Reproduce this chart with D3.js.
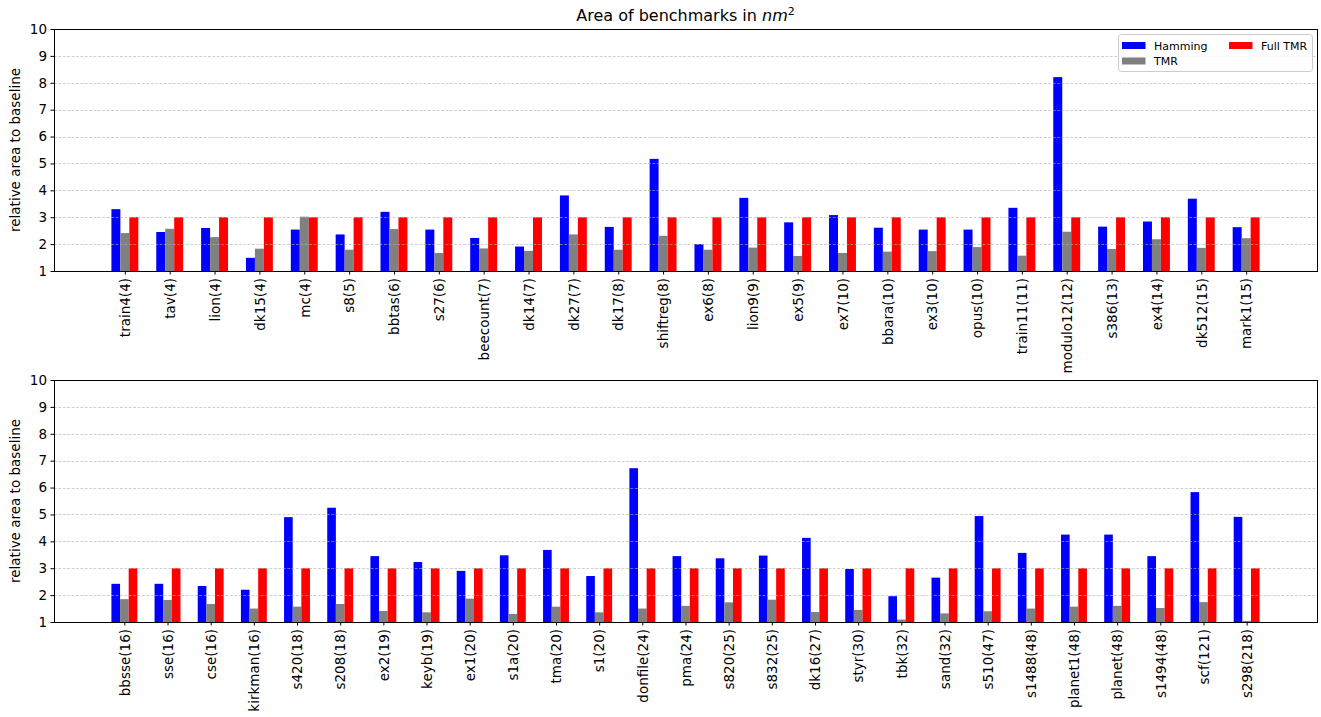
<!DOCTYPE html>
<html>
<head>
<meta charset="utf-8">
<script src="https://cdn.jsdelivr.net/npm/d3@7"></script>
<style>
  html, body { margin: 0; padding: 0; background: #fff; }
  svg { display: block; font-family: "DejaVu Sans", sans-serif; }
</style>
</head>
<body>
<svg id="chart" width="1321" height="717"></svg>
<script>
// Benchmarks of the first panel (state count in parentheses)
const topCategories = ["train4(4)", "tav(4)", "lion(4)", "dk15(4)", "mc(4)", "s8(5)", "bbtas(6)", "s27(6)",
  "beecount(7)", "dk14(7)", "dk27(7)", "dk17(8)", "shiftreg(8)", "ex6(8)", "lion9(9)", "ex5(9)", "ex7(10)",
  "bbara(10)", "ex3(10)", "opus(10)", "train11(11)", "modulo12(12)", "s386(13)", "ex4(14)", "dk512(15)", "mark1(15)"];
const topHamming = [3.30, 2.45, 2.60, 1.49, 2.54, 2.36, 3.20, 2.54, 2.23, 1.91, 3.81, 2.64, 5.17, 2.00, 3.72, 2.81,
  3.08, 2.61, 2.54, 2.54, 3.35, 8.21, 2.65, 2.84, 3.69, 2.63];
const topTMR = [2.41, 2.57, 2.26, 1.83, 3.02, 1.79, 2.56, 1.67, 1.84, 1.75, 2.36, 1.79, 2.31, 1.79, 1.87, 1.56,
  1.67, 1.72, 1.74, 1.89, 1.57, 2.46, 1.82, 2.18, 1.86, 2.22];
const topFullTMR = [3, 3, 3, 3, 3, 3, 3, 3, 3, 3, 3, 3, 3, 3, 3, 3, 3, 3, 3, 3, 3, 3, 3, 3, 3, 3];

// Benchmarks of the second panel
const bottomCategories = ["bbsse(16)", "sse(16)", "cse(16)", "kirkman(16)", "s420(18)", "s208(18)", "ex2(19)",
  "keyb(19)", "ex1(20)", "s1a(20)", "tma(20)", "s1(20)", "donfile(24)", "pma(24)", "s820(25)", "s832(25)",
  "dk16(27)", "styr(30)", "tbk(32)", "sand(32)", "s510(47)", "s1488(48)", "planet1(48)", "planet(48)",
  "s1494(48)", "scf(121)", "s298(218)"];
const bottomHamming = [2.42, 2.42, 2.34, 2.20, 4.90, 5.25, 3.45, 3.23, 2.90, 3.48, 3.68, 2.71, 6.72, 3.45, 3.37,
  3.47, 4.13, 2.97, 1.96, 2.65, 4.94, 3.57, 4.25, 4.25, 3.45, 5.83, 4.91];
const bottomTMR = [1.85, 1.82, 1.67, 1.50, 1.57, 1.67, 1.41, 1.36, 1.87, 1.30, 1.57, 1.36, 1.50, 1.60, 1.73,
  1.83, 1.37, 1.45, 1.09, 1.32, 1.40, 1.50, 1.57, 1.60, 1.52, 1.74, 1.04];
const bottomFullTMR = [3, 3, 3, 3, 3, 3, 3, 3, 3, 3, 3, 3, 3, 3, 3, 3, 3, 3, 3, 3, 3, 3, 3, 3, 3, 3, 3];

const seriesNames = ["Hamming", "TMR", "Full TMR"];
const seriesColors = ["#0000ff", "#808080", "#ff0000"];
const yTicks = [1, 2, 3, 4, 5, 6, 7, 8, 9, 10];

const svg = d3.select("#chart");
const W = 1321;
const left = 54, right = 1317;
const barWidth = 0.2;
const offsets = [-0.2, 0, 0.2];

function drawPanel(top, bottom, categories, series) {
  const n = categories.length;
  const span = (n - 1) + 3 * barWidth;
  const pad = 0.05 * span;
  const x = d3.scaleLinear()
    .domain([-1.5 * barWidth - pad, n - 1 + 1.5 * barWidth + pad])
    .range([left, right]);
  const y = d3.scaleLinear().domain([1, 10]).range([bottom, top]);
  const g = svg.append("g");

  // bars
  series.forEach((vals, s) => {
    g.append("g").selectAll("rect")
      .data(vals)
      .join("rect")
      .attr("x", (d, i) => x(i + offsets[s] - barWidth / 2))
      .attr("width", (d, i) => x(i + offsets[s] + barWidth / 2) - x(i + offsets[s] - barWidth / 2))
      .attr("y", d => y(d))
      .attr("height", d => y(1) - y(d))
      .attr("fill", seriesColors[s]);
  });

  // horizontal dashed grid, drawn over the bars
  g.append("g").selectAll("line")
    .data(yTicks.filter(t => t > 1 && t < 10))
    .join("line")
    .attr("x1", left).attr("x2", right)
    .attr("y1", d => Math.round(y(d)) + 0.5).attr("y2", d => Math.round(y(d)) + 0.5)
    .attr("stroke", "#b0b0b0")
    .attr("stroke-opacity", 0.75)
    .attr("stroke-width", 0.8)
    .attr("stroke-dasharray", "2.8,1.6");

  // y axis
  const yAxis = d3.axisLeft(y).tickValues(yTicks).tickFormat(d3.format("d")).tickSize(3.5).tickPadding(3.5);
  const ya = g.append("g").attr("transform", `translate(${left},0)`).call(yAxis);
  ya.select(".domain").remove();
  ya.selectAll("text").attr("font-size", "13.5px").attr("fill", "#000").attr("font-family", "DejaVu Sans, sans-serif");
  ya.selectAll("line").attr("stroke", "#000").attr("stroke-width", 1);

  // x axis with rotated category labels
  const xAxis = d3.axisBottom(x).tickValues(d3.range(n)).tickFormat(i => categories[i]).tickSize(3.5).tickPadding(3.5);
  const xa = g.append("g").attr("transform", `translate(0,${bottom})`).call(xAxis);
  xa.select(".domain").remove();
  xa.selectAll("line").attr("stroke", "#000").attr("stroke-width", 1);
  xa.selectAll("text")
    .attr("font-size", "13.5px").attr("fill", "#000").attr("font-family", "DejaVu Sans, sans-serif")
    .attr("text-anchor", "end")
    .attr("dy", null)
    .attr("transform", function () {
      return `translate(0,7) rotate(-90)`;
    })
    .attr("y", 0).attr("x", 0)
    .attr("dy", "0.35em");

  // frame
  g.append("rect")
    .attr("x", left + 0.5).attr("y", top + 0.5)
    .attr("width", right - left).attr("height", bottom - top)
    .attr("fill", "none").attr("stroke", "#000").attr("stroke-width", 1);

  // y label
  g.append("text")
    .attr("transform", `translate(20,${(top + bottom) / 2}) rotate(-90)`)
    .attr("text-anchor", "middle")
    .attr("font-size", "13.5px")
    .text("relative area to baseline");

  return g;
}

drawPanel(29, 271, topCategories, [topHamming, topTMR, topFullTMR]);
drawPanel(380, 622, bottomCategories, [bottomHamming, bottomTMR, bottomFullTMR]);

// title
const title = svg.append("text")
  .attr("x", (left + right) / 2).attr("y", 21)
  .attr("text-anchor", "middle")
  .attr("font-size", "16px");
title.append("tspan").text("Area of benchmarks in ");
title.append("tspan").attr("font-style", "italic").text("nm");
title.append("tspan").attr("font-size", "11px").attr("dy", "-6").text("2");

// legend (two columns)
const legend = svg.append("g");
legend.append("rect")
  .attr("x", 1118.5).attr("y", 34.5).attr("width", 194).attr("height", 37)
  .attr("rx", 3).attr("fill", "#fff").attr("fill-opacity", 0.8)
  .attr("stroke", "#cccccc").attr("stroke-width", 1);
const legendPos = [[1122, 42], [1122, 57.5], [1229, 42]];
seriesNames.forEach((name, i) => {
  const [lx, ly] = legendPos[i];
  legend.append("rect")
    .attr("x", lx).attr("y", ly).attr("width", 23.5).attr("height", 7)
    .attr("fill", seriesColors[i]);
  legend.append("text")
    .attr("x", lx + 32).attr("y", ly + 7.5)
    .attr("font-size", "11px")
    .text(name);
});
</script>
</body>
</html>
